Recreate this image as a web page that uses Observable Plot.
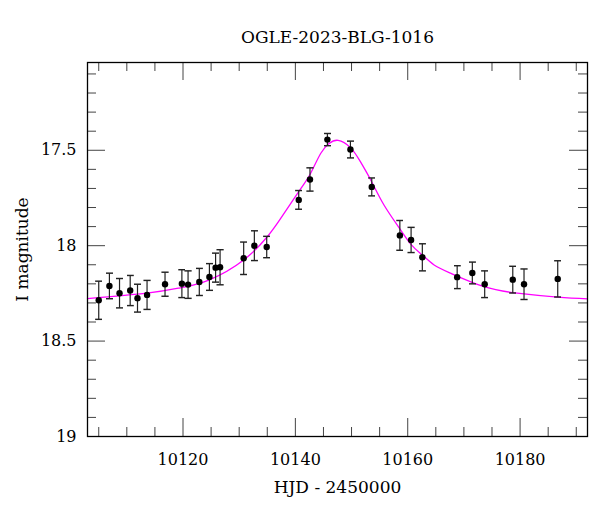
<!DOCTYPE html>
<html><head><meta charset="utf-8">
<script src="https://cdn.jsdelivr.net/npm/d3@7"></script>
<script src="https://cdn.jsdelivr.net/npm/@observablehq/plot@0.6"></script>
<style>body{margin:0;background:#fff}</style>
</head><body><div id="chart"></div>
<script>
const title = "OGLE-2023-BLG-1016";
const xLabel = "HJD - 2450000";
const yLabel = "I magnitude";

// observations
const days = [10105.0, 10106.9, 10108.7, 10110.6, 10111.9, 10113.6, 10116.8, 10119.8, 10120.9, 10122.9,
  10124.7, 10125.8, 10126.6, 10130.8, 10132.7, 10134.9, 10140.6, 10142.6, 10145.7, 10149.8,
  10153.6, 10158.6, 10160.6, 10162.6, 10168.8, 10171.5, 10173.7, 10178.7, 10180.7, 10186.7];
const mags = [18.286, 18.211, 18.249, 18.235, 18.275, 18.258, 18.202, 18.199, 18.204, 18.190,
  18.164, 18.115, 18.113, 18.066, 18.000, 18.007, 17.760, 17.653, 17.444, 17.496,
  17.692, 17.946, 17.970, 18.061, 18.165, 18.143, 18.202, 18.178, 18.202, 18.174];
const errs = [0.100, 0.067, 0.077, 0.079, 0.073, 0.076, 0.063, 0.073, 0.072, 0.071,
  0.070, 0.076, 0.092, 0.085, 0.078, 0.056, 0.049, 0.061, 0.032, 0.044,
  0.047, 0.078, 0.066, 0.071, 0.060, 0.057, 0.070, 0.070, 0.080, 0.095];

// model curve
const modelDays = [10103.0, 10113.6, 10119.5, 10124.6, 10130.8, 10135.0, 10137.3, 10140.9, 10142.7, 10144.5,
  10146.0, 10147.6, 10149.8, 10151.6, 10153.6, 10155.8, 10158.7, 10160.7, 10162.6, 10164.7,
  10167.7, 10173.6, 10179.5, 10186.7, 10192.0];
const modelMags = [18.277, 18.249, 18.221, 18.180, 18.075, 17.953, 17.861, 17.704, 17.622, 17.517,
  17.465, 17.448, 17.486, 17.561, 17.666, 17.788, 17.916, 17.997, 18.049, 18.101,
  18.145, 18.215, 18.249, 18.270, 18.279];

// axes
const xDomain = [10103, 10192];
const yDomain = [17.04, 19];
const xMajorTicks = [10120, 10140, 10160, 10180];
const xMinorTicks = [10105, 10110, 10115, 10125, 10130, 10135, 10145, 10150, 10155, 10165, 10170, 10175, 10185, 10190];
const yMajorTicks = [17.5, 18, 18.5, 19];
const yMinorTicks = [17.1, 17.2, 17.3, 17.4, 17.6, 17.7, 17.8, 17.9, 18.1, 18.2, 18.3, 18.4, 18.6, 18.7, 18.8, 18.9];
const yTickLabels = ["17.5", "18", "18.5", "19"];

const obs = days.map((d, i) => ({day: d, mag: mags[i], err: errs[i]}));
const model = modelDays.map((d, i) => ({day: d, mag: modelMags[i]}));

const W = 600, H = 512, mL = 87, mR = 13, mT = 62, mB = 76;
const fw = W - mL - mR, fh = H - mT - mB;
const major = 18, minor = 9;
const tickColor = "#444";
const font = "DejaVu Serif";

const chart = Plot.plot({
  width: W, height: H,
  marginLeft: mL, marginRight: mR, marginTop: mT, marginBottom: mB,
  style: {fontFamily: font, fontSize: "16px", background: "#fff", color: "#000"},
  x: {domain: xDomain, ticks: xMajorTicks, tickSize: 0, tickPadding: 17, tickFormat: d => String(d), label: null},
  y: {domain: yDomain, reverse: true, ticks: yMajorTicks, tickSize: 0, tickPadding: 11,
      tickFormat: d => yTickLabels[yMajorTicks.indexOf(d)], label: null},
  marks: [
    // ticks inward on all four sides
    Plot.tickY(yMajorTicks, {y: d => d, insetRight: fw - major, stroke: tickColor}),
    Plot.tickY(yMinorTicks, {y: d => d, insetRight: fw - minor, stroke: tickColor}),
    Plot.tickY(yMajorTicks, {y: d => d, insetLeft: fw - major, stroke: tickColor}),
    Plot.tickY(yMinorTicks, {y: d => d, insetLeft: fw - minor, stroke: tickColor}),
    Plot.tickX(xMajorTicks, {x: d => d, insetTop: fh - major, stroke: tickColor}),
    Plot.tickX(xMinorTicks, {x: d => d, insetTop: fh - minor, stroke: tickColor}),
    Plot.tickX(xMajorTicks, {x: d => d, insetBottom: fh - major, stroke: tickColor}),
    Plot.tickX(xMinorTicks, {x: d => d, insetBottom: fh - minor, stroke: tickColor}),
    Plot.line(model, {x: "day", y: "mag", stroke: "#ff00ff", strokeWidth: 1.3, curve: "natural"}),
    Plot.link(obs, {x1: "day", x2: "day", y1: d => d.mag - d.err, y2: d => d.mag + d.err,
      stroke: "#222", strokeWidth: 1.2, markerStart: "tick", markerEnd: "tick"}),
    Plot.dot(obs, {x: "day", y: "mag", r: 3.2, fill: "#000", stroke: "none"}),
    Plot.frame({stroke: "#000", strokeWidth: 1.3}),
    Plot.text([title], {frameAnchor: "top", dy: -25, lineAnchor: "middle", textAnchor: "middle", fontSize: 17, fill: "#000"}),
    Plot.text([xLabel], {frameAnchor: "bottom", dy: 51, lineAnchor: "middle", textAnchor: "middle", fontSize: 17, fill: "#000"}),
    Plot.text([yLabel], {frameAnchor: "left", dx: -65, rotate: -90, lineAnchor: "middle", textAnchor: "middle", fontSize: 17, fill: "#000"})
  ]
});
document.getElementById("chart").appendChild(chart);
</script>
</body></html>
